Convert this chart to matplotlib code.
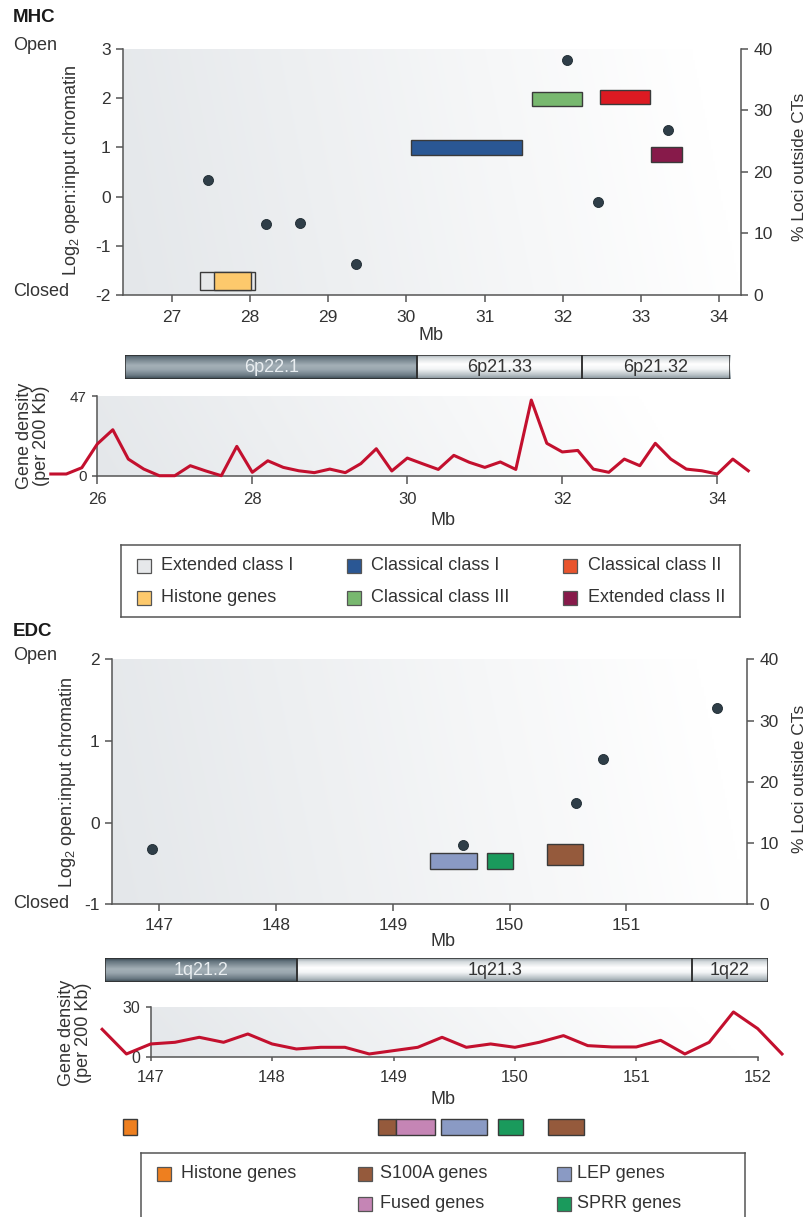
import numpy as np
import matplotlib
matplotlib.use('Agg')
import matplotlib.pyplot as plt
from matplotlib.patches import Rectangle
from matplotlib.colors import LinearSegmentedColormap

plt.rcParams['font.family'] = ['Liberation Sans', 'DejaVu Sans']
plt.rcParams['mathtext.fontset'] = 'custom'
plt.rcParams['mathtext.rm'] = 'Liberation Sans'
plt.rcParams['mathtext.it'] = 'Liberation Sans:italic'
plt.rcParams['mathtext.bf'] = 'Liberation Sans:bold'
plt.rcParams['axes.unicode_minus'] = False

W, H = 809, 1217
TXT = '#333333'
AXC = '#555555'
DENS = '#c3102e'
DOT = '#2f3e48'

# ---------------- MHC ----------------
mhc_xticks = [27, 28, 29, 30, 31, 32, 33, 34]
mhc_loci_mb = [27.46, 28.21, 28.64, 29.36, 32.06, 32.45, 33.34]
mhc_loci_pct = [18.7, 11.5, 11.7, 5.0, 38.2, 15.1, 26.8]

mhc_class_names = ['Extended class I', 'Histone genes', 'Classical class I',
                   'Classical class III', 'Classical class II', 'Extended class II']
mhc_class_start = [27.36, 27.54, 30.06, 31.61, 32.48, 33.13]
mhc_class_end = [28.06, 28.01, 31.48, 32.25, 33.11, 33.53]
mhc_class_low = [-1.90, -1.90, 0.84, 1.84, 1.88, 0.71]
mhc_class_high = [-1.54, -1.54, 1.16, 2.13, 2.17, 1.01]
mhc_class_colors = ['#e6e8ea', '#fdc96c', '#2a5794', '#78b86f', '#dc1a22', '#871a4a']
mhc_legend_colors = ['#e6e8ea', '#fdc96c', '#2a5794', '#78b86f', '#e9542d', '#871a4a']

mhc_bands = ['6p22.1', '6p21.33', '6p21.32']
mhc_band_start = [26.36, 30.13, 32.25]
mhc_band_end = [30.13, 32.25, 34.16]
mhc_band_dark = [True, False, False]

mhc_density_mb = [25.4, 25.6, 25.8, 26.0, 26.2, 26.4, 26.6, 26.8, 27.0, 27.2,
                  27.4, 27.6, 27.8, 28.0, 28.2, 28.4, 28.6, 28.8, 29.0, 29.2,
                  29.4, 29.6, 29.8, 30.0, 30.2, 30.4, 30.6, 30.8, 31.0, 31.2,
                  31.4, 31.6, 31.8, 32.0, 32.2, 32.4, 32.6, 32.8, 33.0, 33.2,
                  33.4, 33.6, 33.8, 34.0, 34.2, 34.4]
mhc_density = [1.0, 1.0, 4.7, 18.7, 27.1, 9.8, 3.9, 0.0, 0.0, 5.9,
               2.8, 0.0, 17.3, 2.0, 8.8, 4.9, 2.9, 1.8, 3.9, 1.8,
               7.1, 15.9, 2.8, 10.4, 7.0, 3.7, 12.0, 7.9, 4.9, 8.1,
               3.7, 44.6, 19.1, 14.0, 14.9, 3.9, 2.0, 9.8, 5.9, 19.1,
               9.8, 3.9, 2.9, 1.0, 9.8, 2.9]

# ---------------- EDC ----------------
edc_xticks = [147, 148, 149, 150, 151]
edc_loci_mb = [146.94, 149.60, 150.57, 150.80, 151.78]
edc_loci_pct = [9.1, 9.7, 16.6, 23.7, 32.1]

edc_class_start = [149.32, 149.81, 150.32]
edc_class_end = [149.72, 150.03, 150.63]
edc_class_low = [-0.57, -0.57, -0.52]
edc_class_high = [-0.375, -0.375, -0.26]
edc_class_colors = ['#8a9ac4', '#1a9a5c', '#955a3c']

edc_bands = ['1q21.2', '1q21.3', '1q22']
edc_band_start = [146.62, 148.20, 151.45]
edc_band_end = [148.20, 151.45, 152.07]
edc_band_dark = [True, False, False]

edc_density_mb = [146.6, 146.8, 147.0, 147.2, 147.4, 147.6, 147.8, 148.0, 148.2, 148.4,
                  148.6, 148.8, 149.0, 149.2, 149.4, 149.6, 149.8, 150.0, 150.2, 150.4,
                  150.6, 150.8, 151.0, 151.2, 151.4, 151.6, 151.8, 152.0, 152.2]
edc_density = [16.8, 2.0, 8.0, 9.0, 12.0, 9.0, 14.0, 8.0, 5.0, 6.0,
               6.0, 2.0, 4.0, 6.0, 12.0, 6.0, 8.0, 6.0, 9.0, 13.0,
               7.0, 6.2, 6.2, 10.2, 2.0, 9.0, 27.2, 17.2, 2.0]

edc_gene_start = [146.77, 148.87, 149.02, 149.39, 149.86, 150.27]
edc_gene_end = [146.89, 149.02, 149.34, 149.77, 150.07, 150.57]
edc_gene_colors = ['#ee7f1f', '#955a3c', '#c585b5', '#8a9ac4', '#1a9a5c', '#955a3c']

edc_legend_names = ['Histone genes', 'S100A genes', 'Fused genes', 'LEP genes', 'SPRR genes']
edc_legend_colors = ['#ee7f1f', '#955a3c', '#c585b5', '#8a9ac4', '#1a9a5c']


fig = plt.figure(figsize=(W / 100, H / 100), dpi=100)


def add_ax(l, t, r, b):
    return fig.add_axes([l / W, 1 - b / H, (r - l) / W, (b - t) / H])


def ftext(x, y, s, **kw):
    kw.setdefault('color', TXT)
    kw.setdefault('fontsize', 13)
    return fig.text(x / W, 1 - y / H, s, **kw)


def shade(ax, fade=1.0):
    x0, x1 = ax.get_xlim()
    y0, y1 = ax.get_ylim()
    gx = np.linspace(0, 1, 300)[None, :]
    gy = np.linspace(0, 1, 80)[:, None]
    t = np.clip(gx / fade + gy * 0.08, 0, 1)
    c0 = np.array([0.894, 0.906, 0.918])
    img = c0 + (1 - c0) * t[..., None]
    ax.imshow(img, extent=(x0, x1, y0, y1), origin='lower', aspect='auto',
              zorder=0, interpolation='bilinear')
    ax.set_xlim(x0, x1)
    ax.set_ylim(y0, y1)


def style_axis(ax, size):
    for s in ['top', 'right']:
        ax.spines[s].set_visible(False)
    for s in ['left', 'bottom']:
        ax.spines[s].set_color(AXC)
        ax.spines[s].set_linewidth(1.1)
    ax.tick_params(direction='out', length=5, width=1.1, color=AXC,
                   labelcolor=TXT, labelsize=size, pad=4)


def add_twin(ax, size):
    tw = ax.twinx()
    for s in ['left', 'top', 'bottom']:
        tw.spines[s].set_visible(False)
    tw.spines['right'].set_color(AXC)
    tw.spines['right'].set_linewidth(1.1)
    tw.tick_params(direction='out', length=5, width=1.1, color=AXC,
                   labelcolor=TXT, labelsize=size, pad=4)
    tw.set_ylim(0, 40)
    tw.set_yticks([0, 10, 20, 30, 40])
    return tw


dark_cmap = LinearSegmentedColormap.from_list('dark', [
    (0.0, '#34434c'), (0.12, '#62727c'), (0.45, '#a4b0b7'),
    (0.62, '#9aa7af'), (0.86, '#6b7a84'), (1.0, '#3b4952')])
light_cmap = LinearSegmentedColormap.from_list('light', [
    (0.0, '#96a1a8'), (0.15, '#d6dbde'), (0.4, '#ffffff'),
    (0.6, '#f3f5f6'), (0.85, '#b7c0c5'), (1.0, '#85929a')])


def ideogram(ax, names, starts, ends, dark):
    ax.set_axis_off()
    for n, s, e, d in zip(names, starts, ends, dark):
        cm = dark_cmap if d else light_cmap
        grad = cm(np.linspace(0, 1, 64))[:, None, :3]
        ax.imshow(grad, extent=(s, e, 0, 1), origin='upper', aspect='auto',
                  zorder=0, interpolation='bilinear')
        ax.add_patch(Rectangle((s, 0), e - s, 1, facecolor='none',
                               edgecolor='#2e2e2e', lw=1.1, zorder=2))
        ax.text((s + e) / 2, 0.5, n, ha='center', va='center', fontsize=13,
                color='#e8edf0' if d else TXT, zorder=3)
    ax.set_xlim(starts[0], ends[-1])
    ax.set_ylim(0, 1)


def legend_box(l, t, r, b, names, colors, sq_x, txt_x, row_y):
    lax = add_ax(l, t, r, b)
    lax.set_xlim(l, r)
    lax.set_ylim(b, t)
    lax.set_xticks([])
    lax.set_yticks([])
    lax.patch.set_alpha(0)
    for s in lax.spines.values():
        s.set_color('#555555')
        s.set_linewidth(1.1)
    for n, c, sx, tx, ry in zip(names, colors, sq_x, txt_x, row_y):
        lax.add_patch(Rectangle((sx, ry - 7), 14, 14, facecolor=c,
                                edgecolor='#555555', lw=0.9))
        lax.text(tx, ry, n, ha='left', va='center', fontsize=13, color=TXT)


# ---------------- MHC open chromatin panel ----------------
ftext(13, 18, 'MHC', fontsize=13.5, fontweight='bold', color='#1a1a1a', va='center')
ftext(13, 46, 'Open', va='center')
ftext(13, 292, 'Closed', va='center')

ax1 = add_ax(123, 49, 741, 295)
ax1.set_xlim(26.375, 34.28)
ax1.set_ylim(-2, 3)
shade(ax1)
style_axis(ax1, 12.5)
ax1.tick_params(axis='x', pad=5.5)
ax1.set_xticks(mhc_xticks)
ax1.set_yticks([-2, -1, 0, 1, 2, 3])
for s, e, lo, hi, c in zip(mhc_class_start, mhc_class_end, mhc_class_low,
                           mhc_class_high, mhc_class_colors):
    ax1.add_patch(Rectangle((s, lo), e - s, hi - lo, facecolor=c,
                            edgecolor='#3a3a3a', lw=1, zorder=3))
tw1 = add_twin(ax1, 12.5)
tw1.scatter(mhc_loci_mb, mhc_loci_pct, s=52, color=DOT, edgecolor='#1e2a31',
            lw=0.6, zorder=4)
ftext(72, 170, 'Log$_2$ open:input chromatin', rotation=90, ha='center', va='center')
ftext(799, 167, '% Loci outside CTs', rotation=90, ha='center', va='center', fontsize=12.5)
ftext(431, 336, 'Mb', ha='center', va='center')

# ideogram
axi1 = add_ax(125, 355, 730, 379.3)
ideogram(axi1, mhc_bands, mhc_band_start, mhc_band_end, mhc_band_dark)

# gene density
ax2 = add_ax(97.3, 396, 717.3, 475.7)
ax2.set_xlim(26, 34)
ax2.set_ylim(0, 47)
shade(ax2, 0.95)
style_axis(ax2, 12)
ax2.tick_params(axis='x', length=5.5, pad=6.5)
ax2.tick_params(axis='y', labelsize=11, length=3.5)
ax2.set_yticks([0, 47])
ax2.set_xticks([26, 28, 30, 32, 34])
ax2.plot(mhc_density_mb, mhc_density, color=DENS, lw=2.2, clip_on=False, zorder=3)
ftext(33, 436, 'Gene density\n(per 200 Kb)', rotation=90, ha='center', va='center',
      linespacing=1.0)
ftext(443, 521, 'Mb', ha='center', va='center')

legend_box(121, 545, 740, 617, mhc_class_names, mhc_legend_colors,
           [137, 137, 347, 347, 563, 563], [161, 161, 371, 371, 588, 588],
           [566, 598, 566, 598, 566, 598])

# ---------------- EDC open chromatin panel ----------------
ftext(13, 632, 'EDC', fontsize=13.5, fontweight='bold', color='#1a1a1a', va='center')
ftext(13, 656, 'Open', va='center')
ftext(13, 903, 'Closed', va='center')

ax3 = add_ax(112.3, 659.3, 746.7, 904.3)
ax3.set_xlim(146.60, 152.03)
ax3.set_ylim(-1, 2)
shade(ax3)
style_axis(ax3, 12.5)
ax3.tick_params(axis='x', pad=5)
ax3.set_xticks(edc_xticks)
ax3.set_yticks([-1, 0, 1, 2])
for s, e, lo, hi, c in zip(edc_class_start, edc_class_end, edc_class_low,
                           edc_class_high, edc_class_colors):
    ax3.add_patch(Rectangle((s, lo), e - s, hi - lo, facecolor=c,
                            edgecolor='#3a3a3a', lw=1, zorder=3))
tw3 = add_twin(ax3, 12.5)
tw3.scatter(edc_loci_mb, edc_loci_pct, s=52, color=DOT, edgecolor='#1e2a31',
            lw=0.6, zorder=4)
ftext(68, 782, 'Log$_2$ open:input chromatin', rotation=90, ha='center', va='center')
ftext(799, 779, '% Loci outside CTs', rotation=90, ha='center', va='center', fontsize=12.5)
ftext(443, 942, 'Mb', ha='center', va='center')

axi3 = add_ax(105, 958.3, 767.7, 982.3)
ideogram(axi3, edc_bands, edc_band_start, edc_band_end, edc_band_dark)

ax4 = add_ax(150.7, 1007.3, 757.7, 1057.3)
ax4.set_xlim(147, 152)
ax4.set_ylim(0, 30)
shade(ax4, 0.97)
style_axis(ax4, 12)
ax4.tick_params(axis='x', length=3.2, pad=6)
ax4.tick_params(axis='y', labelsize=11.5, length=3.5)
ax4.set_yticks([0, 30])
ax4.set_xticks([147, 148, 149, 150, 151, 152])
ax4.plot(edc_density_mb, edc_density, color=DENS, lw=2.2, clip_on=False, zorder=3)
ftext(75, 1033, 'Gene density\n(per 200 Kb)', rotation=90, ha='center', va='center',
      linespacing=1.0)
ftext(443, 1100, 'Mb', ha='center', va='center')

# gene track under the density plot
ax5 = add_ax(150.7, 1119.3, 757.7, 1135)
ax5.set_xlim(147, 152)
ax5.set_ylim(0, 1)
ax5.set_axis_off()
for s, e, c in zip(edc_gene_start, edc_gene_end, edc_gene_colors):
    ax5.add_patch(Rectangle((s, 0), e - s, 1, facecolor=c, edgecolor='#3a3a3a',
                            lw=1, clip_on=False))

legend_box(141, 1153, 745, 1230, edc_legend_names, edc_legend_colors,
           [157, 358, 358, 557, 557], [181, 380, 380, 577, 577],
           [1174, 1174, 1204, 1174, 1204])

fig.savefig('out.png', dpi=100)
